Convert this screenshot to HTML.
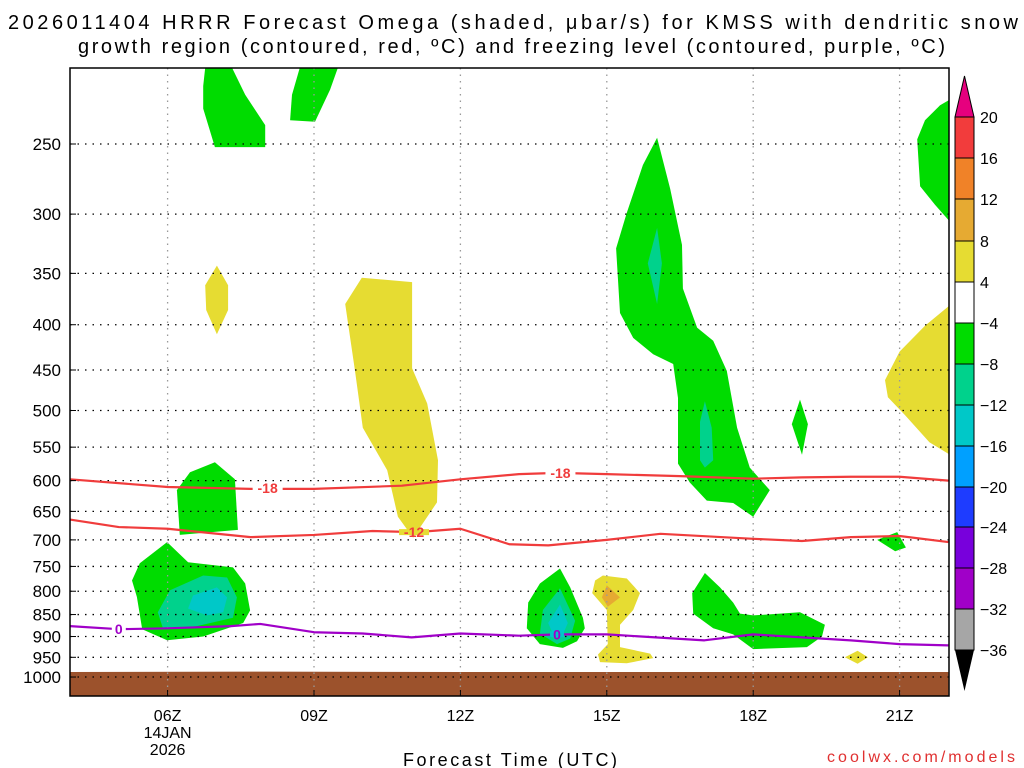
<!DOCTYPE html>
<html><head><meta charset="utf-8"><style>
body{margin:0;background:#fff;}
svg{display:block;font-family:"Liberation Sans",sans-serif;}
</style></head><body>
<svg id="chart" width="1024" height="768" viewBox="0 0 1024 768">
<rect width="1024" height="768" fill="#fff"/>
<text x="8" y="29" font-size="20" textLength="1010" lengthAdjust="spacing">2026011404 HRRR Forecast Omega (shaded, μbar/s) for KMSS with dendritic snow</text>
<text x="78" y="53" font-size="20" textLength="867" lengthAdjust="spacing">growth region (contoured, red, ºC) and freezing level (contoured, purple, ºC)</text>
<g id="shade"></g><g id="ground"></g><g id="grid"></g><g id="contours"></g><g id="axes"></g><g id="cbar"></g>
<text x="403" y="766" font-size="18" textLength="214" lengthAdjust="spacing">Forecast Time (UTC)</text>
<text x="827" y="762" font-size="16" fill="#e03030" textLength="188" lengthAdjust="spacing">coolwx.com/models</text>
</svg>
<script>
const NS="http://www.w3.org/2000/svg";
const pTicks=[250,300,350,400,450,500,550,600,650,700,750,800,850,900,950,1000];
const hTicks=[6,9,12,15,18,21];
const hLabels=["06Z","09Z","12Z","15Z","18Z","21Z"];
const cbLevels=[20,16,12,8,4,-4,-8,-12,-16,-20,-24,-28,-32,-36];
const cbColors=["#f23c3c","#f08228","#e6aa32","#e6dc32","#ffffff","#00dc00","#00d28c","#00c8c8","#00a0ff","#1e3cff","#7800dc","#a000c8","#a6a6a6"];
const groundP=[[4,987],[8,986],[12,987],[16,987],[22,987]];
// shaded regions: [hour, hPa]
const greenTL=[[6.77,205],[7.32,205],[7.59,220],[8.0,238],[8.0,252],[6.97,252],[6.73,228],[6.73,215]];
const greenT2=[[8.71,205],[9.49,205],[9.33,217],[9.02,236],[8.51,235],[8.55,220]];
const yellowS=[[7.01,343],[7.24,361],[7.24,385],[7.01,410],[6.79,385],[6.77,361]];
const greenM=[[6.97,572],[7.38,598],[7.44,682],[6.25,691],[6.19,615],[6.46,587]];
const greenLL=[[5.99,704],[6.42,742],[7.34,752],[7.59,784],[7.69,841],[7.55,869],[6.73,900],[5.99,909],[5.48,883],[5.37,812],[5.27,778],[5.43,744]];
const tealLL=[[5.8,845],[6.05,798],[6.73,768],[7.22,772],[7.42,813],[7.34,857],[6.6,876],[5.91,883]];
const cyanLL=[[6.42,837],[6.52,809],[7.01,792],[7.22,813],[7.14,845],[6.81,852]];
const yellowT=[[9.98,354],[11.01,358],[11.01,448],[11.32,491],[11.54,569],[11.52,635],[11.03,696],[10.72,659],[10.5,584],[10.0,523],[9.84,451],[9.64,379]];
const green14=[[14.04,754],[14.25,792],[14.51,857],[14.55,881],[14.39,911],[14.1,927],[13.63,918],[13.36,881],[13.39,824],[13.63,784]];
const teal14=[[14.04,794],[14.35,864],[14.25,905],[13.98,918],[13.63,893],[13.69,840]];
const cyan14=[[14.04,828],[14.2,869],[14.1,895],[13.9,895],[13.8,869]];
const yellow15=[[14.92,768],[15.41,774],[15.68,804],[15.54,840],[15.27,873],[15.27,925],[15.89,941],[15.95,952],[15.41,965],[14.86,962],[14.82,943],[15.02,918],[15.0,840],[14.7,804],[14.76,778]];
const orange15=[[15.0,788],[15.27,813],[15.02,833],[14.9,813]];
const green18=[[17.01,763],[17.32,792],[17.59,824],[17.73,848],[18.0,852],[18.96,845],[19.47,873],[19.41,900],[19.1,925],[18.0,930],[17.59,895],[17.18,881],[16.77,848],[16.75,804]];
const green16=[[16.03,246],[16.3,281],[16.54,325],[16.56,364],[16.85,403],[17.18,417],[17.46,451],[17.67,523],[17.93,580],[18.34,615],[18.0,659],[17.59,636],[17.05,632],[16.7,603],[16.46,574],[16.46,484],[16.36,443],[15.95,432],[15.54,414],[15.27,388],[15.19,328],[15.41,299],[15.74,264]];
const teal16a=[[16.03,311],[16.13,341],[16.03,379],[15.84,341]];
const teal16b=[[17.01,488],[17.15,523],[17.18,569],[17.01,580],[16.91,569],[16.91,515]];
const greenR=[[22.01,223],[22.01,305],[21.73,293],[21.42,279],[21.36,247],[21.52,235],[21.83,226]];
const yellowR=[[22.01,381],[22.01,560],[21.61,543],[21.11,506],[20.76,483],[20.7,462],[21.0,429],[21.52,401]];
const green19=[[18.96,486],[19.12,518],[19.0,561],[18.79,518]];
const green21=[[20.54,700],[20.95,686],[21.13,714],[20.91,721]];
const yellow20=[[19.88,950],[20.14,934],[20.35,950],[20.14,966]];
// contour lines
const lineHours=[4,6,7.7,9,10.8,12,13.2,14,15,16.5,18,19,20,21,22];
const minus18=[598,610,613,613,608,598,590,588,590,593,597,595,594,594,600];
const c12Hours=[4,5,6,7.7,9,10.2,11.1,12,13,13.8,15,16.1,18,19,20,21,22];
const minus12=[664,677,680,695,691,684,686,680,708,710,700,689,698,702,695,693,704];
const c0Hours=[4,5,6,7.3,7.9,9,10,11,12,13.2,14,15,16,17,18,19,20,21,22];
const zero=[876,883,881,876,871,890,893,902,893,898,895,895,902,909,895,902,909,918,921];

const L=70,R=949,T=68,B=696;
const x=h=>L+(h-4)*48.8;
const y=p=>144+(Math.log(p)-Math.log(250))*384.5;
function mk(tag,attrs,parent){const e=document.createElementNS(NS,tag);for(const k in attrs)e.setAttribute(k,attrs[k]);parent.appendChild(e);return e;}
const shade=document.getElementById('shade');
shade.setAttribute('clip-path','url(#plotclip)');
const defs=mk('defs',{},document.getElementById('chart'));
const cp=mk('clipPath',{id:'plotclip'},defs);mk('rect',{x:L,y:T,width:R-L,height:B-T},cp);
function poly(pts,fill,name){
 const e=mk('polygon',{points:pts.map(d=>x(d[0]).toFixed(1)+','+y(d[1]).toFixed(1)).join(' '),fill:fill},shade);
 
 
}
const G="#00dc00",TE="#00d28c",CY="#00c8c8",YE="#e6dc32",OR="#e6aa32";
poly(greenTL,G,'omega-green-region');poly(greenT2,G,'omega-green-region');poly(yellowS,YE,'omega-yellow-region');
poly(greenM,G,'omega-green-region');poly(greenLL,G,'omega-green-region');poly(tealLL,TE,'omega-teal-region');poly(cyanLL,CY,'omega-cyan-region');
poly(yellowT,YE,'omega-yellow-region');poly(green14,G,'omega-green-region');poly(teal14,TE,'omega-teal-region');poly(cyan14,CY,'omega-cyan-region');
poly(yellow15,YE,'omega-yellow-region');poly(orange15,OR,'omega-orange-region');poly(green18,G,'omega-green-region');
poly(green16,G,'omega-green-region');poly(teal16a,TE,'omega-teal-region');poly(teal16b,TE,'omega-teal-region');
poly(greenR,G,'omega-green-region');poly(yellowR,YE,'omega-yellow-region');poly(green19,G,'omega-green-region');poly(green21,G,'omega-green-region');poly(yellow20,YE,'omega-yellow-region');
// ground
const gpts=groundP.map(d=>x(d[0])+','+y(d[1])).concat([x(22)+','+B,x(4)+','+B]).join(' ');
const gr=mk('polygon',{points:gpts,fill:'#9c522c'},document.getElementById('ground'));


// grid + axes
const grid=document.getElementById('grid'),axes=document.getElementById('axes');
pTicks.forEach(p=>{
 const gl=mk('line',{x1:L,x2:R,y1:y(p),y2:y(p),stroke:'#000','stroke-width':1.3,'stroke-dasharray':'1.5 6'},grid);
 
 
 const t=mk('text',{x:61,y:y(p)+6,'text-anchor':'end','font-size':17},axes);t.textContent=p;
 
 
 mk('line',{x1:L,x2:L+6,y1:y(p),y2:y(p),stroke:'#000'},axes);
});
hTicks.forEach((h,i)=>{
 const gl=mk('line',{x1:x(h),x2:x(h),y1:T,y2:B,stroke:'#999','stroke-width':1.3,'stroke-dasharray':'1.5 5'},grid);
 
 
 mk('line',{x1:x(h),x2:x(h),y1:B,y2:B-6,stroke:'#000'},axes);
 const t=mk('text',{x:x(h),y:721,'text-anchor':'middle','font-size':16},axes);t.textContent=hLabels[i];
 
 
});
const d1=mk('text',{x:x(6),y:738,'text-anchor':'middle','font-size':16},axes);d1.textContent='14JAN';


const d2=mk('text',{x:x(6),y:755,'text-anchor':'middle','font-size':16},axes);d2.textContent='2026';


const fr=mk('rect',{x:L,y:T,width:R-L,height:B-T,fill:'none',stroke:'#000','stroke-width':1.5},axes);


// contours
const cg=document.getElementById('contours');
function cline(hs,ps,color,name){
 const e=mk('polyline',{points:hs.map((h,i)=>x(h)+','+y(ps[i])).join(' '),fill:'none',stroke:color,'stroke-width':2.2,'stroke-linejoin':'round'},cg);
 
 
}
function clabel(h,p,txt,color,bg){
 const cx=x(h),cy=y(p),w=txt.length*8+6;
 mk('rect',{x:cx-w/2,y:cy-3,width:w,height:6,fill:bg},cg);
 const t=mk('text',{x:cx,y:cy+5,'text-anchor':'middle','font-size':14,'font-weight':'bold',fill:color},cg);t.textContent=txt;
 
 
}
cline(lineHours,minus18,'#f03c3c','contour-minus18');
cline(c12Hours,minus12,'#f03c3c','contour-minus12');
cline(c0Hours,zero,'#a000c8','freezing-level-contour');
clabel(8.05,612,'-18','#f03c3c','#fff');clabel(14.05,588,'-18','#f03c3c','#fff');clabel(11.05,686,'-12','#f03c3c','#e6dc32');
clabel(5.0,883,'0','#a000c8','#fff');clabel(13.98,895,'0','#a000c8','#00c8c8');
// colorbar
const cb=document.getElementById('cbar');
const cbLabY=[117,158,199,241,282,323,364,405,446,487,527,568,609,650];
const cbX0=955,cbX1=974;
const tu=mk('polygon',{points:`${cbX0},117 ${cbX1},117 ${(cbX0+cbX1)/2},76`,fill:'#e6007e',stroke:'#000'},cb);


cbColors.forEach((c,i)=>{
 const r=mk('rect',{x:cbX0,y:cbLabY[i],width:cbX1-cbX0,height:cbLabY[i+1]-cbLabY[i],fill:c,stroke:'#000','stroke-width':1},cb);
 
 
});
const td=mk('polygon',{points:`${cbX0},650 ${cbX1},650 ${(cbX0+cbX1)/2},691`,fill:'#000'},cb);


cbLevels.forEach((v,i)=>{
 const t=mk('text',{x:980,y:cbLabY[i]+6,'font-size':16},cb);t.textContent=v<0?'\u2212'+(-v):String(v);
 
 
});
</script>
</body></html>
